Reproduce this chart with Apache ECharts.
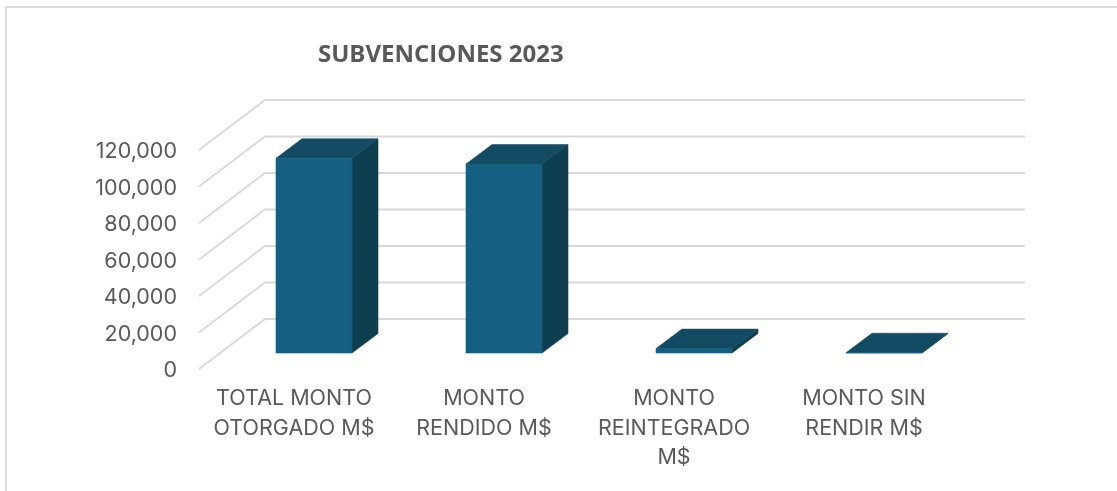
<!DOCTYPE html>
<html>
<head>
<meta charset="utf-8">
<style>html,body{margin:0;padding:0;background:#fff}#c{width:1117px;height:491px}</style>
<script src="https://cdn.jsdelivr.net/npm/echarts@6/dist/echarts.min.js"></script>
</head>
<body>
<div id="c"></div>
<script>
const categories = ["TOTAL MONTO\nOTORGADO M$", "MONTO\nRENDIDO M$", "MONTO\nREINTEGRADO\nM$", "MONTO SIN\nRENDIR M$"];
const values = [106700, 103500, 2400, 150];
const gridTicks = [0, 20000, 40000, 60000, 80000, 100000, 120000];

const wallDx = 66, wallDy = -50;      // depth of the floor, front edge to back wall
const barDx0 = 20, barDy0 = -16;      // where bars' front face sits in that depth
const barDepthX = 26, barDepthY = -19.5;
const barRatio = 0.4;

const chart = echarts.init(document.getElementById('c'), null, {renderer: 'canvas'});

function wallItem(params, api) {
  const v = api.value(1);
  const rect = params.coordSys;
  const y = api.coord([0, v])[1];
  const x0 = rect.x, xb = rect.x + wallDx, xe = rect.x + rect.width + wallDx, yb = y + wallDy;
  return {
    type: 'polyline',
    shape: {points: [[x0, y], [xb, yb], [xe, yb]]},
    style: {stroke: '#D9D9D9', lineWidth: 1.8, fill: null}
  };
}

function barItem(params, api) {
  const c = api.coord([api.value(0), api.value(1)]);
  const base = api.coord([api.value(0), 0]);
  const w = api.size([1, 0])[0] * barRatio;
  const l = c[0] - w / 2 + barDx0, r = c[0] + w / 2 + barDx0;
  const t = c[1] + barDy0, b = base[1] + barDy0;
  const dx = barDepthX, dy = barDepthY;
  return {
    type: 'group',
    children: [
      {type: 'polygon', shape: {points: [[r, t], [r + dx, t + dy], [r + dx, b + dy], [r, b]]},
       style: {fill: '#0E3F50', stroke: '#0E3F50', lineWidth: 0.6}},
      {type: 'polygon', shape: {points: [[l, t], [l + dx, t + dy], [r + dx, t + dy], [r, t]]},
       style: {fill: '#134B63', stroke: '#134B63', lineWidth: 0.6}},
      {type: 'rect', shape: {x: l, y: t, width: r - l, height: b - t},
       style: {fill: '#156082', stroke: '#156082', lineWidth: 0.6}}
    ]
  };
}

chart.setOption({
  animation: false,
  backgroundColor: '#fff',
  title: {
    text: 'SUBVENCIONES 2023',
    left: 313, top: 38,
    textStyle: {fontFamily: 'Open Sans', fontWeight: 'bold', fontSize: 24, color: '#595959'}
  },
  grid: {left: 199, top: 150, width: 760, height: 219, containLabel: false},
  xAxis: {
    type: 'category',
    data: categories,
    axisLine: {show: false},
    axisTick: {show: false},
    splitLine: {show: false},
    axisLabel: {
      interval: 0, margin: 15, fontFamily: 'Inter', fontSize: 21.5,
      color: '#595959', lineHeight: 29.5, align: 'center'
    }
  },
  yAxis: {
    type: 'value',
    min: 0, max: 120000, interval: 20000,
    axisLine: {show: false},
    axisTick: {show: false},
    splitLine: {show: false},
    axisLabel: {
      margin: 22, fontFamily: 'Inter', fontSize: 21.5, color: '#595959',
      verticalAlign: 'top', lineHeight: 4,
      formatter: v => v.toLocaleString('en-US')
    }
  },
  series: [
    {type: 'custom', silent: true, clip: false, z: 1, renderItem: wallItem,
     data: gridTicks.map(v => [0, v]), encode: {x: 0, y: 1}},
    {type: 'custom', clip: false, z: 2, renderItem: barItem,
     data: values.map((v, i) => [i, v]), encode: {x: 0, y: 1}}
  ],
  graphic: [
    {type: 'polyline', silent: true, z: 0,
     shape: {points: [[6, 491], [6, 7], [1117, 7]]},
     style: {stroke: '#DEDEDE', lineWidth: 2, fill: null}}
  ]
});
</script>
</body>
</html>
